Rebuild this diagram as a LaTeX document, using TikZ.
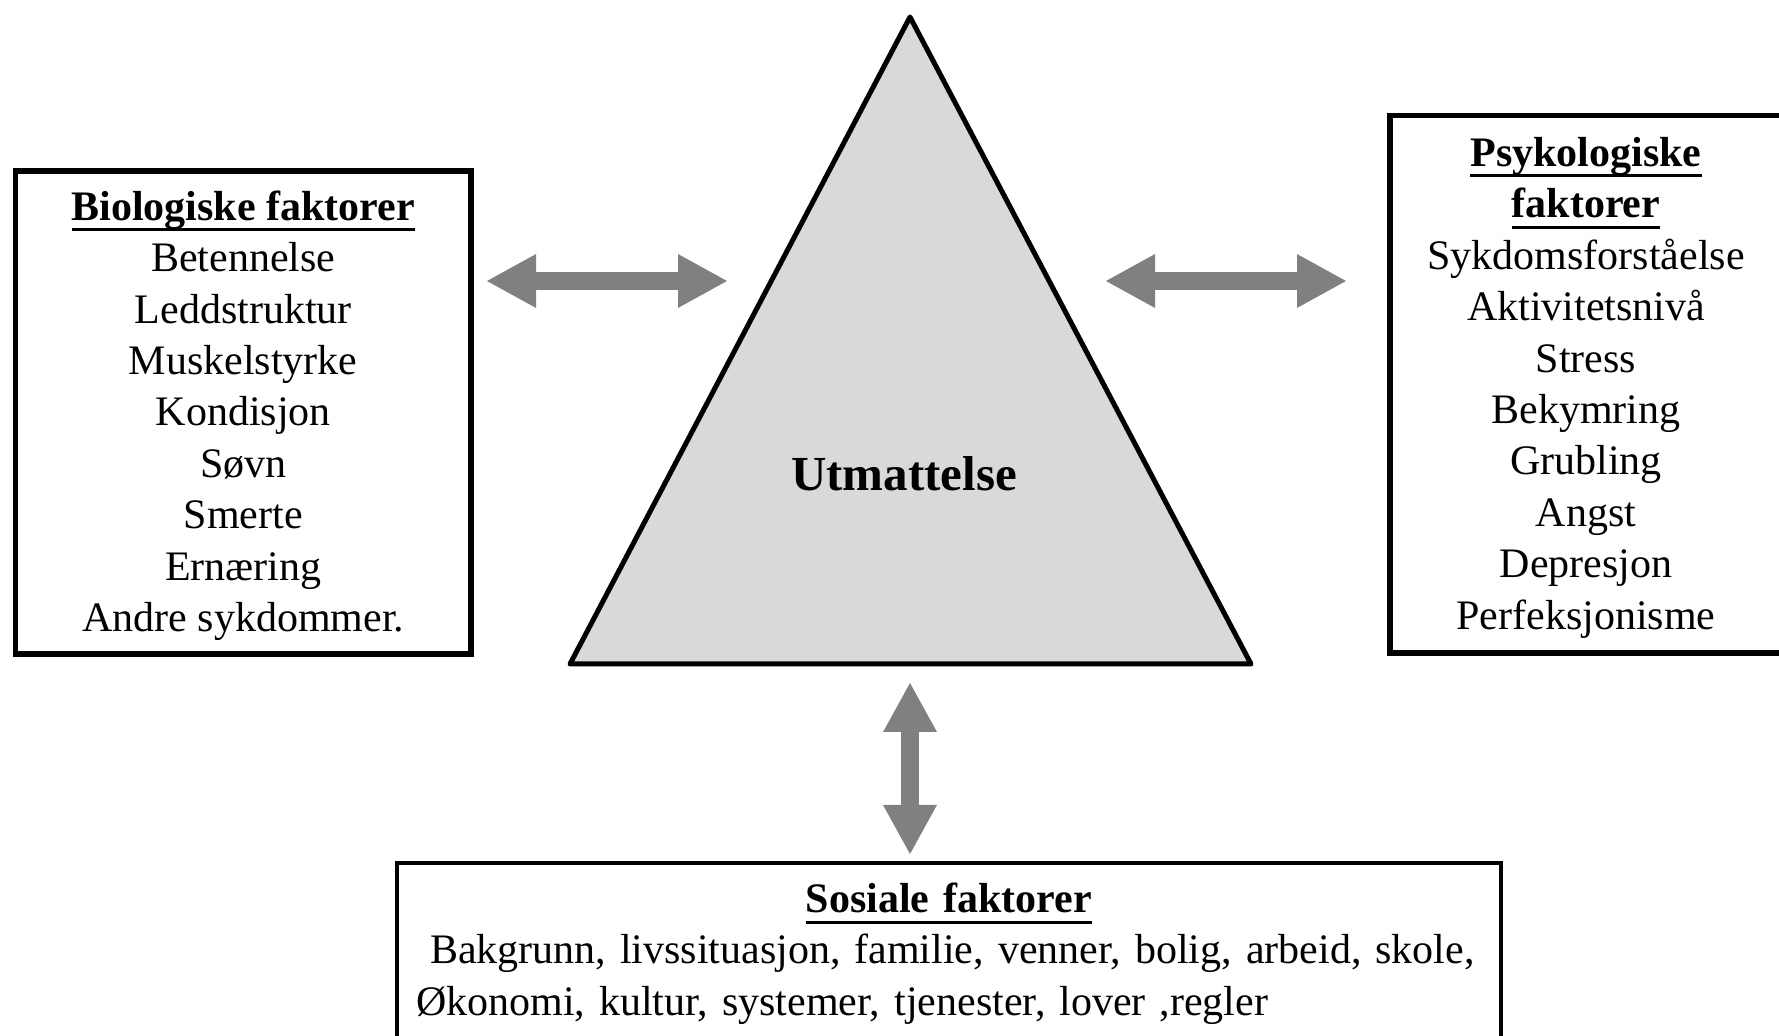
\documentclass[tikz,border=0pt]{standalone}
\usepackage{fontspec}
\setmainfont{Liberation Serif}
\usetikzlibrary{arrows.meta,positioning}
\newcommand{\ulhead}[1]{\setbox0\hbox{\bfseries #1}\rlap{\rule[-5.5pt]{\wd0}{1.5pt}}\rule{0pt}{18pt}\box0}

\begin{document}
\begin{tikzpicture}[x=0.5pt, y=-0.5pt, every node/.style={font=\fontsize{21}{25.7}\selectfont}]
\tikzset{factor/.style={draw, line width=2.75pt, align=center, inner sep=0pt}}
\tikzset{link/.style={draw=gray, line width=9pt, {Triangle[length=25pt,width=25pt]}-{Triangle[length=25pt,width=25pt]}}}
\tikzset{core/.style={draw, line width=2.5pt, line join=round, fill=gray!30}}
\useasboundingbox (0,0) rectangle (1779,1036);
\coordinate (apex) at (910,17);
\coordinate (baseL) at (570,664);
\coordinate (baseR) at (1251,664);
\draw[core] (apex) -- (baseL) -- (baseR) -- cycle;
\node[font=\fontsize{24.5}{29}\selectfont\bfseries] (fatigue) at (904,474) {Utmattelse};
\node[factor, minimum width=227.75pt, minimum height=241.5pt] (bio) at (243.25,412.5) {\ulhead{Biologiske faktorer}\\Betennelse\\Leddstruktur\\Muskelstyrke\\Kondisjon\\Søvn\\Smerte\\Ernæring\\Andre sykdommer.};
\node[factor, minimum width=196pt, minimum height=268.75pt] (psy) at (1586,384.25) {\ulhead{Psykologiske}\\\ulhead{faktorer}\\Sykdomsforståelse\\Aktivitetsnivå\\Stress\\Bekymring\\Grubling\\Angst\\Depresjon\\Perfeksjonisme};
\node[factor, line width=1.75pt, align=left, text width=533pt, inner xsep=9.5pt, minimum height=87.5pt] (soc) at (949,950.5) {\centering\ulhead{Sosiale faktorer}\par\raggedright\ Bakgrunn, livssituasjon, familie, venner, bolig, arbeid, skole,\\Økonomi, kultur, systemer, tjenester, lover ,regler};
\coordinate (bioE) at (486,281);
\coordinate (triW) at (728,281);
\coordinate (triE) at (1105,281);
\coordinate (psyW) at (1347,281);
\coordinate (triS) at (910,682);
\coordinate (socN) at (910,855);
\draw[link] (bioE) -- (triW);
\draw[link] (triE) -- (psyW);
\draw[link] (triS) -- (socN);
\end{tikzpicture}
\end{document}
